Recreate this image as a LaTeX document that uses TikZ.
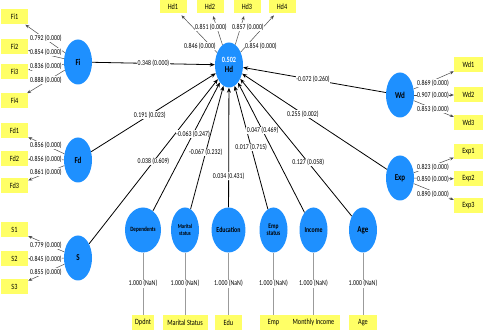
\documentclass[tikz,border=0pt]{standalone}
\usepackage{fontspec}
\setmainfont{Carlito}
\newfontfamily\narrowf[FakeStretch=0.78]{Carlito}
\usetikzlibrary{arrows.meta,backgrounds,shapes.geometric}
\definecolor{lvblue}{RGB}{30,144,255}
\definecolor{mvyellow}{RGB}{255,255,102}
\definecolor{mgrey}{RGB}{155,155,155}
\begin{document}
\begin{tikzpicture}[x=1pt,y=-1pt,
  lv/.style={ellipse, fill=lvblue, minimum width=28pt, minimum height=45pt, inner sep=0pt, align=center,
    font=\narrowf\fontsize{9}{9.5}\selectfont\bfseries},
  lvsmall/.style={lv, font=\narrowf\fontsize{6.5}{7}\selectfont\bfseries},
  lvtiny/.style={lv, font=\narrowf\fontsize{6}{6.5}\selectfont\bfseries},
  mv/.style={rectangle, fill=mvyellow, minimum width=27pt, minimum height=15pt, inner sep=1pt,
    font=\narrowf\fontsize{8}{8.5}\selectfont},
  lab/.style={fill=white, inner sep=0.6pt, font=\narrowf\fontsize{7.5}{8}\selectfont},
  strpath/.style={draw=black, line width=0.8pt, -{Stealth[length=5pt,width=4pt]}},
  load/.style={draw=black!70, line width=0.5pt, -{Stealth[length=4pt,width=3.2pt]}},
  single/.style={draw=mgrey, line width=0.7pt},
]
\useasboundingbox (0,0) rectangle (483,331);

% latent variables
\node[lv] (Fi) at (78,62) {Fi};
\node[lv] (Fd) at (78,160) {Fd};
\node[lv] (S) at (78,258) {S};
\node[lv] (Hd) at (229,65) {{\color{white}\fontsize{8}{8.5}\selectfont 0.502}\\Hd};
\node[lv] (Wd) at (400,95) {Wd};
\node[lv] (Exp) at (400,178) {Exp};
\node[lvsmall] (Dep) at (143,230) {Dependents};
\node[lvtiny] (Mar) at (185,230) {Marital\\status};
\node[lvsmall, font=\narrowf\fontsize{7.5}{8}\selectfont\bfseries] (Edu) at (228.5,230) {Education};
\node[lvtiny, font=\narrowf\fontsize{7}{7.5}\selectfont\bfseries] (Emp) at (273.5,230) {Emp\\status};
\node[lvsmall, font=\narrowf\fontsize{7.5}{8}\selectfont\bfseries] (Inc) at (313.5,230) {Income};
\node[lv] (Age) at (363,230) {Age};

% indicators
\node[mv] (Fi1) at (14.5,17) {Fi1};
\node[mv] (Fi2) at (14.5,47) {Fi2};
\node[mv] (Fi3) at (14.5,72) {Fi3};
\node[mv] (Fi4) at (14.5,101) {Fi4};
\node[mv] (Fd1) at (14.5,131) {Fd1};
\node[mv] (Fd2) at (14.5,159) {Fd2};
\node[mv] (Fd3) at (14.5,186) {Fd3};
\node[mv] (S1) at (14.5,230) {S1};
\node[mv] (S2) at (14.5,259) {S2};
\node[mv] (S3) at (14.5,287) {S3};
\node[mv, minimum height=13pt] (Hd1) at (173,6.5) {Hd1};
\node[mv, minimum height=13pt] (Hd2) at (210,6.5) {Hd2};
\node[mv, minimum height=13pt] (Hd3) at (247,6.5) {Hd3};
\node[mv, minimum height=13pt] (Hd4) at (282,6.5) {Hd4};
\node[mv, minimum width=29pt] (Wd1) at (468.5,65) {Wd1};
\node[mv, minimum width=29pt] (Wd2) at (468.5,95) {Wd2};
\node[mv, minimum width=29pt] (Wd3) at (468.5,123) {Wd3};
\node[mv, minimum width=29pt] (Exp1) at (468.5,152) {Exp1};
\node[mv, minimum width=29pt] (Exp2) at (468.5,179) {Exp2};
\node[mv, minimum width=29pt] (Exp3) at (468.5,206) {Exp3};
\node[mv, minimum width=22pt] (Dpdnt) at (143,322.5) {Dpdnt};
\node[mv, minimum width=45pt] (MarS) at (185,322.5) {Marital Status};
\node[mv, minimum width=27pt] (EduI) at (228.5,322.5) {Edu};
\node[mv, minimum width=27pt] (EmpI) at (273.5,322.5) {Emp};
\node[mv, minimum width=53pt] (MInc) at (313.5,322.5) {Monthly Income};
\node[mv, minimum width=28pt] (AgeI) at (363,322.5) {Age};

\begin{pgfonlayer}{background}
\fill[white] (0,0) rectangle (483,331);
% outer loadings
\draw[load] (Fi) -- (Fi1);
\draw[load] (Fi) -- (Fi2);
\draw[load] (Fi) -- (Fi3);
\draw[load] (Fi) -- (Fi4);
\draw[load] (Fd) -- (Fd1);
\draw[load] (Fd) -- (Fd2);
\draw[load] (Fd) -- (Fd3);
\draw[load] (S) -- (S1);
\draw[load] (S) -- (S2);
\draw[load] (S) -- (S3);
\draw[load, shorten >=3pt] (Hd) -- (Hd1);
\draw[load, shorten >=3pt] (Hd) -- (Hd2);
\draw[load, shorten >=3pt] (Hd) -- (Hd3);
\draw[load, shorten >=3pt] (Hd) -- (Hd4);
\draw[load] (Wd) -- (Wd1);
\draw[load] (Wd) -- (Wd2);
\draw[load] (Wd) -- (Wd3);
\draw[load] (Exp) -- (Exp1);
\draw[load] (Exp) -- (Exp2);
\draw[load] (Exp) -- (Exp3);
% single-item constructs
\draw[single] (Dep) -- node[lab]{1.000 (NaN)} (Dpdnt);
\draw[single] (Mar) -- node[lab]{1.000 (NaN)} (MarS);
\draw[single] (Edu) -- node[lab]{1.000 (NaN)} (EduI);
\draw[single] (Emp) -- node[lab]{1.000 (NaN)} (EmpI);
\draw[single] (Inc) -- node[lab]{1.000 (NaN)} (MInc);
\draw[single] (Age) -- node[lab]{1.000 (NaN)} (AgeI);
% structural paths
\draw[strpath] (Fi) -- node[lab,pos=0.5]{0.348 (0.000)} (Hd);
\draw[strpath] (Fd) -- node[lab,pos=0.47]{0.191 (0.023)} (Hd);
\draw[strpath] (S) -- node[lab,pos=0.5]{0.038 (0.609)} (Hd);
\draw[strpath] (Dep) -- node[lab,pos=0.6]{-0.063 (0.247)} (Hd);
\draw[strpath] (Mar) -- node[lab,pos=0.46]{-0.067 (0.232)} (Hd);
\draw[strpath] (Edu) -- node[lab,pos=0.26]{0.034 (0.431)} (Hd);
\draw[strpath] (Emp) -- node[lab,pos=0.5]{0.017 (0.715)} (Hd);
\draw[strpath] (Inc) -- node[lab,pos=0.63]{0.047 (0.469)} (Hd);
\draw[strpath] (Age) -- node[lab,pos=0.39]{0.127 (0.058)} (Hd);
\draw[strpath] (Exp) -- node[lab,pos=0.58]{0.255 (0.002)} (Hd);
\draw[strpath] (Wd) -- node[lab,pos=0.51]{-0.072 (0.260)} (Hd);
\end{pgfonlayer}

% outer loading labels
\node[lab] (lFi1) at (46,38) {0.792 (0.000)};
\node[lab] (lFi2) at (46,52) {0.854 (0.000)};
\node[lab] (lFi3) at (46,66) {0.836 (0.000)};
\node[lab] (lFi4) at (46,80) {0.888 (0.000)};
\node[lab] (lFd1) at (46,145) {0.856 (0.000)};
\node[lab] (lFd2) at (46,159) {0.856 (0.000)};
\node[lab] (lFd3) at (46,172) {0.861 (0.000)};
\node[lab] (lS1) at (46,245) {0.779 (0.000)};
\node[lab] (lS2) at (46,259) {0.845 (0.000)};
\node[lab] (lS3) at (46,272) {0.855 (0.000)};
\node[lab] (lHd2) at (211,27) {0.851 (0.000)};
\node[lab] (lHd3) at (248,27) {0.857 (0.000)};
\node[lab] (lHd1) at (200,46) {0.846 (0.000)};
\node[lab] (lHd4) at (261,46) {0.854 (0.000)};
\node[lab] (lWd1) at (433,83) {0.869 (0.000)};
\node[lab] (lWd2) at (433,95) {0.907 (0.000)};
\node[lab] (lWd3) at (433,109) {0.853 (0.000)};
\node[lab] (lExp1) at (433,167) {0.823 (0.000)};
\node[lab] (lExp2) at (433,179) {0.850 (0.000)};
\node[lab] (lExp3) at (433,194) {0.890 (0.000)};
\end{tikzpicture}
\end{document}
